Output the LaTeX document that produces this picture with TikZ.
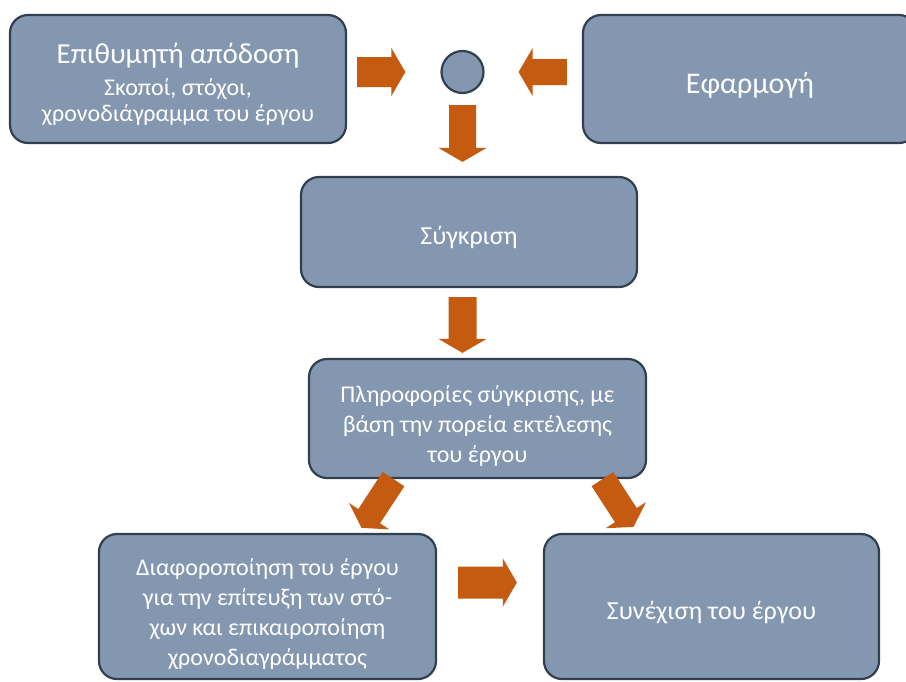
\documentclass[tikz,border=0pt]{standalone}
\usepackage{fontspec}
\setmainfont{Carlito}
\usetikzlibrary{calc}

\definecolor{boxfill}{HTML}{8497B0}
\definecolor{boxline}{HTML}{323F4F}
\definecolor{arrowfill}{HTML}{C55A11}

\tikzset{
	stage/.style={draw=boxline, line width=2.2pt, fill=boxfill, rounded corners=18pt,
		text=white, inner sep=0pt, font=\fontsize{24}{30}\selectfont}
}

% text of a box, set a little below the middle
\newcommand{\boxtext}[2][6pt]{\raisebox{-#1}[\height][\depth]{\begin{tabular}{@{}c@{}}#2\end{tabular}}}

% block arrow from #2 to #3, #1 = half width of the shaft
\newcommand{\blockarrow}[3][14pt]{%
	\fill[arrowfill] let \p1=#2, \p2=#3, \n1={atan2(\y2-\y1,\x2-\x1)} in
		($(\p1)+(\n1+90:#1)$) -- ($(\p2)+(\n1+180:14pt)+(\n1+90:#1)$)
		-- ($(\p2)+(\n1+180:14pt)+(\n1+90:24pt)$) -- (\p2)
		-- ($(\p2)+(\n1+180:14pt)+(\n1-90:24pt)$) -- ($(\p2)+(\n1+180:14pt)+(\n1-90:#1)$)
		-- ($(\p1)+(\n1-90:#1)$) -- cycle;}

\begin{document}
\begin{tikzpicture}[x=1pt, y=-1pt]
	\useasboundingbox (0,0) rectangle (906,681);

	\node[stage, minimum width=336pt, minimum height=128pt, font=\fontsize{24}{26}\selectfont] (goal) at (178,79)
		{\boxtext[7pt]{{\fontsize{29}{33}\selectfont Επιθυμητή απόδοση}\\[6pt] Σκοποί, στόχοι,\\ χρονοδιάγραμμα του έργου}};
	\node[circle, draw=boxline, line width=2.2pt, fill=boxfill, minimum size=42pt, inner sep=0pt] (hub) at (462.5,72) {};
	\node[stage, minimum width=334pt, minimum height=128pt, font=\fontsize{30}{36}\selectfont] (apply) at (750,79) {\boxtext[7pt]{Εφαρμογή}};
	\node[stage, minimum width=336pt, minimum height=110pt, font=\fontsize{26}{32}\selectfont] (compare) at (469,232) {\boxtext{Σύγκριση}};
	\node[stage, minimum width=337pt, minimum height=119pt] (info) at (477.5,418.5)
		{\boxtext[8pt]{Πληροφορίες σύγκρισης, με\\ βάση την πορεία εκτέλεσης\\ του έργου}};
	\node[stage, minimum width=337pt, minimum height=145pt] (revise) at (267.5,606.5)
		{\boxtext[8pt]{Διαφοροποίηση του έργου\\ για την επίτευξη των στό-\\ χων και επικαιροποίηση\\ χρονοδιαγράμματος}};
	\node[stage, minimum width=335pt, minimum height=145pt, font=\fontsize{26}{32}\selectfont] (cont) at (711.5,606.5) {\boxtext[7pt]{Συνέχιση του έργου}};

	% block arrows
	\blockarrow[15pt]{($(goal.east |- hub)!10pt!(hub.west)$)}{($(hub.west)!35pt!(goal.east |- hub)$)}
	\blockarrow[13pt]{($(apply.west |- hub)!15pt!(hub.east)$)}{($(hub.east)!34pt!(apply.west |- hub)$)}
	\blockarrow[13.5pt]{($(hub.south)!11pt!(hub |- compare.north)$)}{($(hub |- compare.north)!14pt!(hub.south)$)}
	\blockarrow{($(hub |- compare.south)!9pt!(hub |- info.north)$)}{($(hub |- info.north)!5pt!(hub |- compare.south)$)}
	\blockarrow[13pt]{([xshift=-84pt]info.south)}{([xshift=94pt,yshift=5pt]revise.north)}
	\blockarrow[13pt]{([xshift=125pt]info.south)}{([xshift=-78pt,yshift=6pt]cont.north)}
	\blockarrow[16pt]{($([yshift=24pt]revise.east)!21pt!([yshift=24pt]cont.west)$)}{($([yshift=24pt]cont.west)!26pt!([yshift=24pt]revise.east)$)}
\end{tikzpicture}
\end{document}
